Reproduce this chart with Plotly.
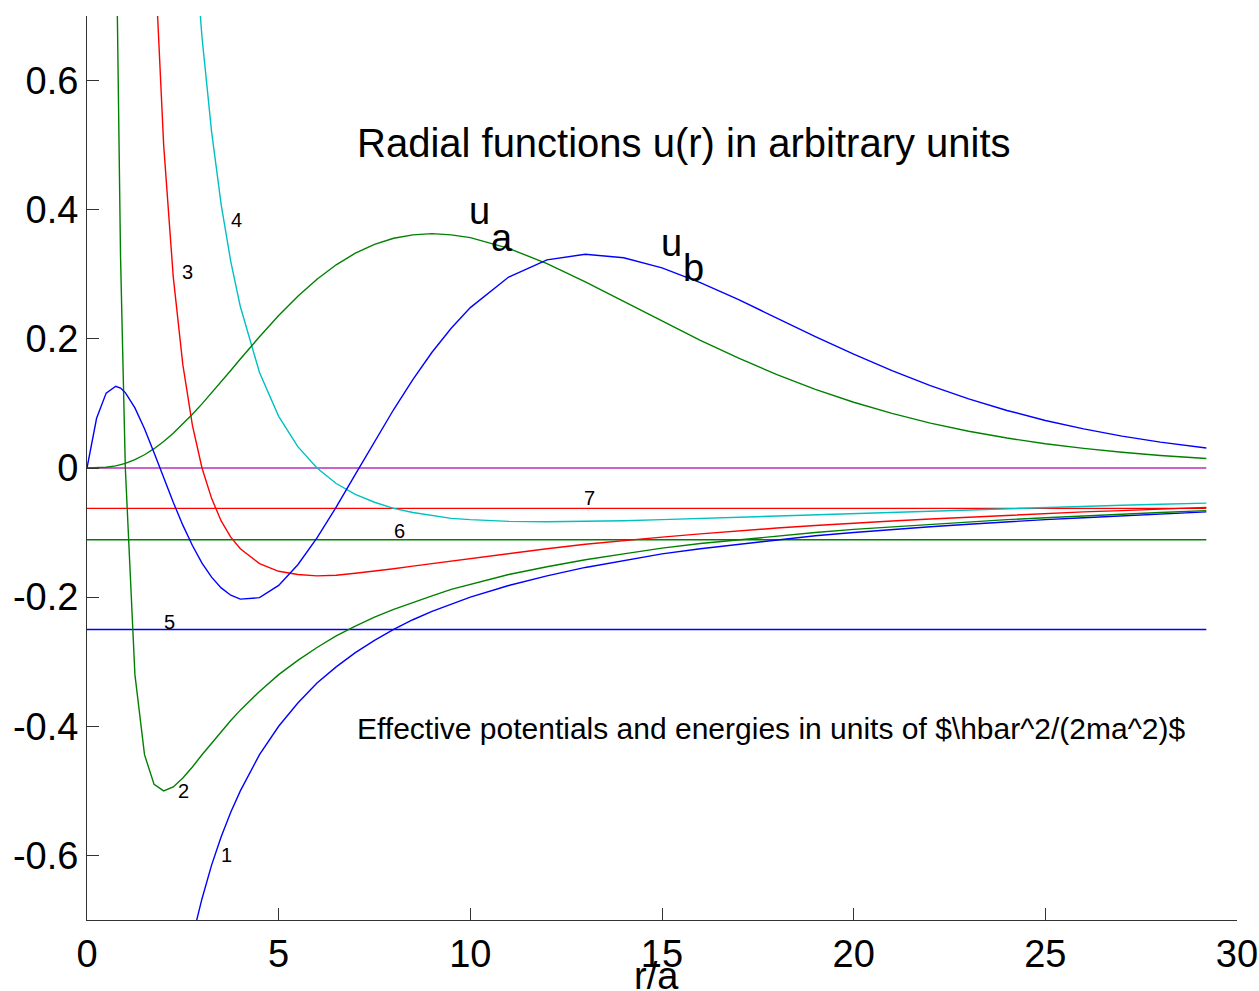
import plotly.graph_objects as go

# shared radial grid r/a
r = [0, 0.25, 0.5, 0.75, 0.875, 1, 1.25, 1.5, 1.75, 2, 2.25, 2.5, 2.75, 3, 3.25, 3.5, 3.75, 4,
     4.5, 5, 5.5, 6, 6.5, 7, 7.5, 8, 8.5, 9, 9.5, 10, 11, 12, 13, 14, 15, 16, 17, 18, 19, 20,
     21, 22, 23, 24, 25, 26, 27, 28, 29.2]

# effective potentials (None where far off-scale)
v1 = [None, None, None, None, None, None, None, None, None, None, None, -0.8, -0.727, -0.667, -0.615, -0.571, -0.533, -0.5,
      -0.444, -0.4, -0.364, -0.333, -0.308, -0.286, -0.267, -0.25, -0.235, -0.222, -0.211, -0.2, -0.182, -0.167, -0.154, -0.143, -0.133, -0.125, -0.118, -0.111, -0.105, -0.1,
      -0.095, -0.091, -0.087, -0.083, -0.08, -0.077, -0.074, -0.071, -0.068]
v2 = [None, None, None, 0.889, 0.327, 0.0, -0.32, -0.444, -0.49, -0.5, -0.494, -0.48, -0.463, -0.444, -0.426, -0.408, -0.391, -0.375,
      -0.346, -0.32, -0.298, -0.278, -0.26, -0.245, -0.231, -0.219, -0.208, -0.198, -0.188, -0.18, -0.165, -0.153, -0.142, -0.133, -0.124, -0.117, -0.111, -0.105, -0.1, -0.095,
      -0.091, -0.087, -0.083, -0.08, -0.077, -0.074, -0.071, -0.069, -0.066]
v3 = [None, None, None, None, None, None, None, 1.333, 0.816, 0.5, 0.296, 0.16, 0.066, 0.0, -0.047, -0.082, -0.107, -0.125,
      -0.148, -0.16, -0.165, -0.167, -0.166, -0.163, -0.16, -0.156, -0.152, -0.148, -0.144, -0.14, -0.132, -0.125, -0.118, -0.112, -0.107, -0.102, -0.097, -0.093, -0.089, -0.085,
      -0.082, -0.079, -0.076, -0.073, -0.07, -0.068, -0.066, -0.064, -0.061]
v4 = [None, None, None, None, None, None, None, None, None, None, None, None, 0.86, 0.667, 0.521, 0.408, 0.32, 0.25,
      0.148, 0.08, 0.033, 0.0, -0.024, -0.041, -0.053, -0.0625, -0.069, -0.074, -0.078, -0.08, -0.0826, -0.0833, -0.0828, -0.0816, -0.08, -0.0781, -0.0761, -0.0741, -0.072, -0.07,
      -0.068, -0.0661, -0.0643, -0.0625, -0.0608, -0.0592, -0.0576, -0.0561, -0.0544]

# radial functions (arbitrary units)
u_a = [0, 0.0001, 0.0011, 0.0033, 0.005, 0.0072, 0.0129, 0.0205, 0.0299, 0.0411, 0.0538, 0.0679, 0.0831, 0.0993, 0.1162, 0.1335, 0.1511, 0.1687,
       0.2033, 0.2361, 0.2661, 0.2923, 0.3147, 0.3327, 0.3464, 0.3558, 0.3611, 0.3629, 0.361, 0.3567, 0.3402, 0.3165, 0.2883, 0.2579, 0.2274, 0.1978, 0.17, 0.1446, 0.1219, 0.1018,
       0.0845, 0.0696, 0.057, 0.0464, 0.0376, 0.0303, 0.0243, 0.0194, 0.0148]
u_b = [0, 0.077, 0.116, 0.1266, 0.1238, 0.1168, 0.0931, 0.0607, 0.0235, -0.0152, -0.0531, -0.0885, -0.1201, -0.1472, -0.1691, -0.1857, -0.197, -0.2031,
       -0.2008, -0.1819, -0.1498, -0.1083, -0.0607, -0.01, 0.041, 0.0906, 0.137, 0.1792, 0.2164, 0.2484, 0.2957, 0.3224, 0.3311, 0.3256, 0.3099, 0.2872, 0.2606, 0.232, 0.2036, 0.1762,
       0.1507, 0.1277, 0.107, 0.0891, 0.0736, 0.0605, 0.0493, 0.04, 0.031]

# energy levels
energy_levels = [-0.25, -0.1111, -0.0625, 0.0]
energy_colors = ["#0000ff", "#008000", "#ff0000", "#b830b8"]
level_span = [0, 29.2]

# curve labels
label_text = ["1", "2", "3", "4", "5", "6", "7"]
label_r = [3.63, 2.53, 2.63, 3.91, 2.14, 8.14, 13.12]
label_y = [-0.600, -0.500, 0.303, 0.384, -0.239, -0.098, -0.047]

x_ticks = [0, 5, 10, 15, 20, 25, 30]
y_ticks = [-0.6, -0.4, -0.2, 0, 0.2, 0.4, 0.6]
y_tick_text = ["-0.6", "-0.4", "-0.2", "0", "0.2", "0.4", "0.6"]

FONT = "Liberation Sans, Arial, Helvetica, sans-serif"
BLUE, GREEN, RED, CYAN = "#0000ff", "#008000", "#ff0000", "#00c0c0"
LW = 1.4

fig = go.Figure()
for yy, col in zip(energy_levels, energy_colors):
    fig.add_trace(go.Scatter(x=level_span, y=[yy, yy], mode="lines",
                             line=dict(color=col, width=LW), showlegend=False, hoverinfo="skip"))
for ys, col in [(v1, BLUE), (v2, GREEN), (v3, RED), (v4, CYAN), (u_a, GREEN), (u_b, BLUE)]:
    fig.add_trace(go.Scatter(x=r, y=ys, mode="lines", line=dict(color=col, width=LW),
                             showlegend=False, connectgaps=False))

for t, xx, yy in zip(label_text, label_r, label_y):
    fig.add_annotation(x=xx, y=yy, text=t, showarrow=False, font=dict(size=20, color="black", family=FONT))

# u_a / u_b labels (letter and lowered subscript)
fig.add_annotation(x=10.25, y=0.398, text="u", showarrow=False, font=dict(size=38, color="black", family=FONT))
fig.add_annotation(x=10.83, y=0.356, text="a", showarrow=False, font=dict(size=38, color="black", family=FONT))
fig.add_annotation(x=15.25, y=0.349, text="u", showarrow=False, font=dict(size=38, color="black", family=FONT))
fig.add_annotation(x=15.83, y=0.310, text="b", showarrow=False, font=dict(size=38, color="black", family=FONT))

fig.add_annotation(x=7.0, y=0.503, xanchor="left", text="Radial functions u(r) in arbitrary units",
                   showarrow=False, font=dict(size=40, color="black", family=FONT))
fig.add_annotation(x=7.0, y=-0.403, xanchor="left",
                   text="Effective potentials and energies in units of $\\hbar^2/(2ma^2)$",
                   showarrow=False, font=dict(size=30, color="black", family=FONT))

fig.add_annotation(x=0.495, xref="paper", y=-0.037, yref="paper", yanchor="top", text="r/a",
                   showarrow=False, font=dict(size=38, color="black", family=FONT))

fig.update_layout(
    width=1259, height=991,
    margin=dict(l=87, r=22, t=16, b=71),
    paper_bgcolor="white", plot_bgcolor="white",
    font=dict(family=FONT, color="black"),
    xaxis=dict(range=[0, 30], tickvals=x_ticks, ticks="inside", ticklen=12, tickcolor="#333",
               showline=True, linecolor="#333", linewidth=1, showgrid=False, zeroline=False,
               tickfont=dict(size=38, family=FONT, color="black"), mirror=False, automargin=False,
               ticklabeloverflow="allow"),
    yaxis=dict(range=[-0.7, 0.7], tickvals=y_ticks, ticktext=y_tick_text, ticks="inside", ticklen=12,
               tickcolor="#333", showline=True, linecolor="#333", linewidth=1, showgrid=False,
               zeroline=False, tickfont=dict(size=38, family=FONT, color="black"), mirror=False,
               automargin=False),
)

fig.write_html("out.html", config={"displayModeBar": False},
               post_script="document.body.style.margin='0';document.body.style.overflow='hidden';")
